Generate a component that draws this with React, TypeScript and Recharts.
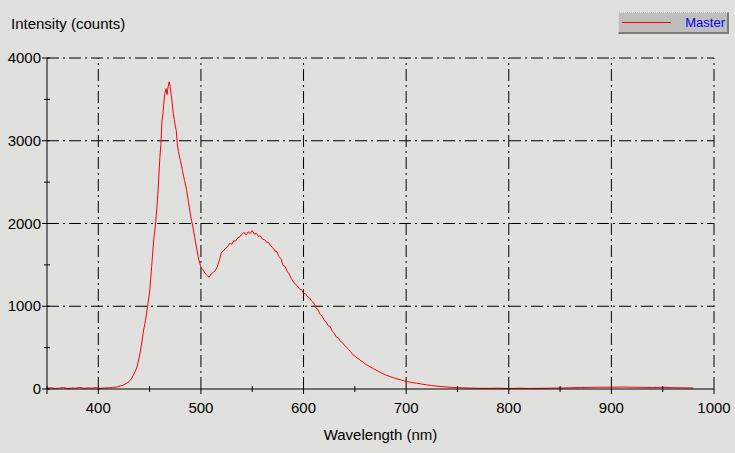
import { LineChart, Line, XAxis, YAxis, ReferenceLine } from 'recharts'

// wavelength (nm) / intensity (counts)
const wavelengths = [
  350, 354, 358, 362, 366, 370, 374, 378, 382, 386, 390, 394, 398, 402, 406, 410, 414, 418,
  420, 422, 424, 426, 428, 430, 432, 434, 436, 438, 440, 442, 444, 446, 448, 450, 452, 454, 456, 458,
  460, 461, 462, 463, 464, 465, 466, 467, 468, 469, 470, 471, 472, 473, 474, 475, 476, 477, 478,
  480, 482, 484, 486, 488, 490, 492, 494, 496, 498, 500, 502, 504, 506, 508, 510, 512, 514, 516, 518,
  520, 522, 524, 526, 528, 530, 532, 534, 536, 538, 540, 542, 544, 546, 548, 550, 552, 554, 556, 558,
  560, 562, 564, 566, 568, 570, 572, 574, 576, 578, 580, 582, 584, 586, 588, 590, 592, 594, 596, 598,
  600, 602, 604, 606, 608, 610, 612, 614, 616, 618, 620, 622, 624, 626, 628, 630, 632, 634, 636, 638,
  640, 642, 644, 646, 648, 650, 652, 654, 656, 658, 660, 664, 668, 672, 676, 680, 684, 688, 692, 696,
  700, 705, 710, 715, 720, 725, 730, 735, 740, 745, 750, 760, 770, 780, 790, 800, 810, 820, 830, 840,
  850, 860, 870, 880, 890, 900, 910, 920, 930, 940, 950, 960, 970, 980,
]
const counts = [
  8, 15, 6, 10, 18, 5, 12, 9, 20, 7, 14, 10, 16, 8, 12, 15, 18, 25,
  32, 38, 45, 58, 72, 90, 120, 165, 210, 280, 390, 530, 700, 830, 1000, 1170, 1480, 1800, 2020, 2350,
  2800, 2950, 3230, 3330, 3480, 3580, 3630, 3560, 3650, 3712, 3660, 3560, 3460, 3330, 3260, 3180, 3120, 2960, 2870,
  2760, 2640, 2520, 2410, 2250, 2090, 1970, 1830, 1690, 1560, 1470, 1440, 1400, 1370, 1350, 1390, 1410, 1430, 1480, 1560,
  1650, 1670, 1700, 1720, 1760, 1750, 1790, 1790, 1830, 1840, 1870, 1895, 1860, 1900, 1880, 1915, 1870, 1880, 1845, 1850,
  1810, 1805, 1775, 1770, 1730, 1710, 1670, 1660, 1600, 1575, 1495, 1480, 1425, 1390, 1335, 1300, 1265, 1245, 1210, 1200,
  1160, 1150, 1115, 1100, 1060, 1040, 985, 960, 905, 880, 835, 810, 765, 755, 695, 670, 630, 615, 575, 560,
  525, 505, 475, 450, 415, 400, 375, 362, 338, 328, 302, 275, 245, 220, 195, 170, 152, 135, 120, 105,
  92, 80, 70, 60, 50, 42, 35, 28, 24, 19, 16, 12, 9, 8, 10, 6, 9, 7, 8, 10,
  12, 15, 18, 20, 22, 22, 24, 22, 20, 18, 20, 16, 14, 12,
]

const xTicks = [350, 400, 450, 500, 550, 600, 650, 700, 750, 800, 850, 900, 950, 1000]
const yTicks = [0, 500, 1000, 1500, 2000, 2500, 3000, 3500, 4000]
const xGrid = [400, 500, 600, 700, 800, 900, 1000]
const yGrid = [1000, 2000, 3000, 4000]

const data = wavelengths.map((w, i) => ({ w, c: counts[i] }))

const FONT = '"Liberation Sans", Arial, sans-serif'
const GRID_DASH = '12 4 2 4'

const XTick = (props: any) => {
  const { x, y, payload } = props
  const v = payload.value
  const major = v % 100 === 0
  return (
    <g>
      <line x1={x} x2={x} y1={major ? y : y - 3} y2={y + (major || v === 350 ? 5 : 3)} stroke="#000" />
      {major && (
        <text x={x} y={y + 24} textAnchor="middle" fontSize={15} fontFamily={FONT} fill="#000">
          {v}
        </text>
      )}
    </g>
  )
}

const YTick = (props: any) => {
  const { x, y, payload } = props
  const v = payload.value
  const major = v % 1000 === 0
  return (
    <g>
      <line x1={x - (major ? 5 : 3)} x2={x + 3} y1={y} y2={y} stroke="#000" />
      {major && (
        <text x={x - 6} y={y + 5} textAnchor="end" fontSize={15} fontFamily={FONT} fill="#000">
          {v}
        </text>
      )}
    </g>
  )
}

export default function App() {
  return (
    <div style={{ position: 'fixed', left: 0, top: 0, width: 735, height: 453, background: '#e0e0df', fontFamily: FONT }}>
      <div style={{ position: 'absolute', left: 11, top: 15, fontSize: 15, lineHeight: '18px', color: '#000' }}>
        Intensity (counts)
      </div>
      <div
        style={{
          position: 'absolute',
          left: 618,
          top: 12,
          width: 108,
          height: 19,
          background: '#bebebc',
          borderTop: '1px dotted #f0f0f0',
          borderLeft: '1px solid #d8d8d8',
          borderRight: '2px solid #7c7c7c',
          borderBottom: '2px solid #7c7c7c',
          boxSizing: 'content-box',
        }}
      >
        <div style={{ position: 'absolute', left: 3, top: 9, width: 49, height: 1, background: '#ff0000' }} />
        <div style={{ position: 'absolute', right: 2, top: 1, fontSize: 13, lineHeight: '17px', color: '#0000ff' }}>Master</div>
      </div>
      <LineChart width={735} height={453} data={data} margin={{ top: 58, right: 21, bottom: 0, left: 0 }}>
        {xGrid.map((v) => (
          <ReferenceLine key={'x' + v} x={v} stroke="#000" strokeDasharray={GRID_DASH} />
        ))}
        {yGrid.map((v) => (
          <ReferenceLine key={'y' + v} y={v} stroke="#000" strokeDasharray={GRID_DASH} />
        ))}
        <XAxis
          dataKey="w"
          type="number"
          domain={[350, 1000]}
          ticks={xTicks}
          interval={0}
          height={64}
          tickSize={0}
          tickMargin={0}
          tick={XTick}
          axisLine={{ stroke: '#000' }}
          label={{ value: 'Wavelength (nm)', position: 'insideBottom', offset: 13, fontSize: 15, fontFamily: FONT, fill: '#000' }}
        />
        <YAxis
          type="number"
          domain={[0, 4000]}
          ticks={yTicks}
          interval={0}
          width={47}
          tickSize={0}
          tickMargin={0}
          tick={YTick}
          axisLine={{ stroke: '#000' }}
        />
        <Line dataKey="c" type="linear" stroke="#ff0000" strokeWidth={1} dot={false} isAnimationActive={false} />
      </LineChart>
    </div>
  )
}
